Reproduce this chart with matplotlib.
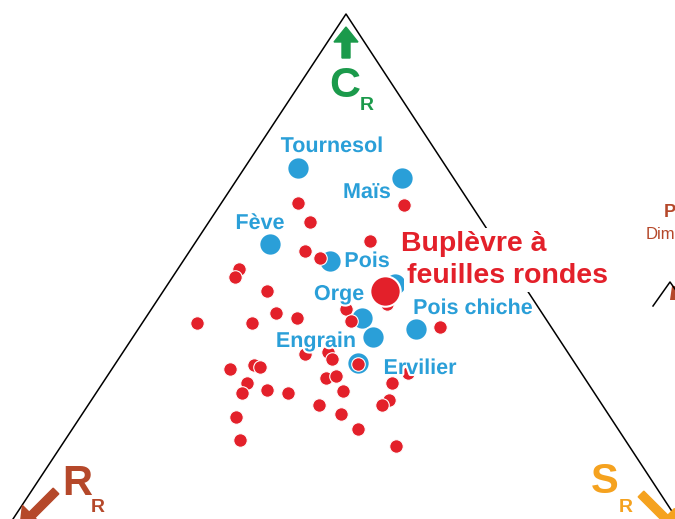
import matplotlib.pyplot as plt
import matplotlib.patheffects as pe

plt.rcParams['font.family'] = ['Liberation Sans', 'DejaVu Sans']

# positions (pixel units, y downwards)
crop_names = ['Tournesol', 'Maïs', 'Fève', 'Pois', 'Orge', 'Engrain', 'Pois chiche', 'Ervilier', '']
crop_x = [298, 402, 270, 330, 362, 373, 416, 358, 395]
crop_y = [168, 178, 244, 261, 318, 337, 329, 363, 284]
label_x = [332, 367, 260, 367, 339, 316, 473, 420]
label_y = [152, 198, 229, 267, 300, 347, 314, 374]

weed_x = [298, 310, 404, 370, 305, 320, 239, 235, 267, 197, 252, 276, 297, 346, 351,
          305, 328, 332, 230, 254, 260, 358, 247, 242, 267, 288, 326, 336, 343, 319,
          341, 358, 236, 240, 392, 408, 389, 382, 396, 440, 387]
weed_y = [203, 222, 205, 241, 251, 258, 269, 277, 291, 323, 323, 313, 318, 309, 321,
          354, 352, 359, 369, 365, 367, 364, 383, 393, 390, 393, 378, 376, 391, 405,
          414, 429, 417, 440, 383, 373, 400, 405, 446, 327, 304]

bup_x = [385]
bup_y = [291]

tri_x = [13, 346, 677]
tri_y = [519, 14, 519]

blue = '#2a9fd8'
red = '#e3202a'
green = '#1b9a4b'
brown = '#b5482a'
orange = '#f5a21f'

fig = plt.figure(figsize=(6.75, 5.19), dpi=100)
ax = fig.add_axes([0, 0, 1, 1])
ax.set_xlim(0, 675)
ax.set_ylim(519, 0)
ax.axis('off')

ax.plot(tri_x, tri_y, color='black', lw=1.1, zorder=1)

ax.scatter(crop_x, crop_y, s=250, color=blue, edgecolor='white', linewidth=1.2, zorder=3)
ax.scatter(weed_x, weed_y, s=95, color=red, edgecolor='white', linewidth=0.8, zorder=4)
ax.scatter(bup_x, bup_y, s=480, color=red, edgecolor='white', linewidth=1.5, zorder=5)

outline = [pe.withStroke(linewidth=3, foreground='white')]
for name, lx, ly in zip(crop_names, label_x, label_y):
    ax.text(lx, ly, name, color=blue, fontsize=15.5, fontweight='bold',
            ha='center', va='baseline', zorder=6, path_effects=outline)

box = dict(facecolor='white', edgecolor='none', pad=2)
ax.text(401, 251, 'Buplèvre à', color=red, fontsize=20.5, fontweight='bold',
        ha='left', va='baseline', zorder=6, bbox=box)
ax.text(407, 283, 'feuilles rondes', color=red, fontsize=20.5, fontweight='bold',
        ha='left', va='baseline', zorder=6, bbox=box)

# strategy corners
ax.arrow(346, 58, 0, -31, width=8, head_width=24, head_length=15,
         length_includes_head=True, color=green, zorder=2)
ax.text(345, 97, 'C', color=green, fontsize=31, fontweight='bold', ha='center', va='baseline')
ax.text(367, 110, 'R', color=green, fontsize=14, fontweight='bold', ha='center', va='baseline')

ax.arrow(56, 491, -36, 36, width=8, head_width=27, head_length=17,
         length_includes_head=True, color=brown, zorder=2)
ax.text(77, 495, 'R', color=brown, fontsize=30, fontweight='bold', ha='center', va='baseline')
ax.text(98, 512, 'R', color=brown, fontsize=14, fontweight='bold', ha='center', va='baseline')

ax.arrow(641, 494, 36, 36, width=8, head_width=27, head_length=17,
         length_includes_head=True, color=orange, zorder=2)
ax.text(605, 493, 'S', color=orange, fontsize=30, fontweight='bold', ha='center', va='baseline')
ax.text(626, 512, 'R', color=orange, fontsize=14, fontweight='bold', ha='center', va='baseline')

# bits of the neighbouring panel cut off at the right edge
ax.text(664, 217, 'P', color=brown, fontsize=13, fontweight='bold', ha='left', va='baseline')
ax.text(646, 239, 'Dim', color=brown, fontsize=12, ha='left', va='baseline')
ax.plot([653, 670, 687], [306, 282, 306], color='black', lw=1.1)
ax.fill([672, 676, 676, 670], [286, 286, 300, 300], color=brown, lw=0)

fig.savefig('out.png', dpi=100)
